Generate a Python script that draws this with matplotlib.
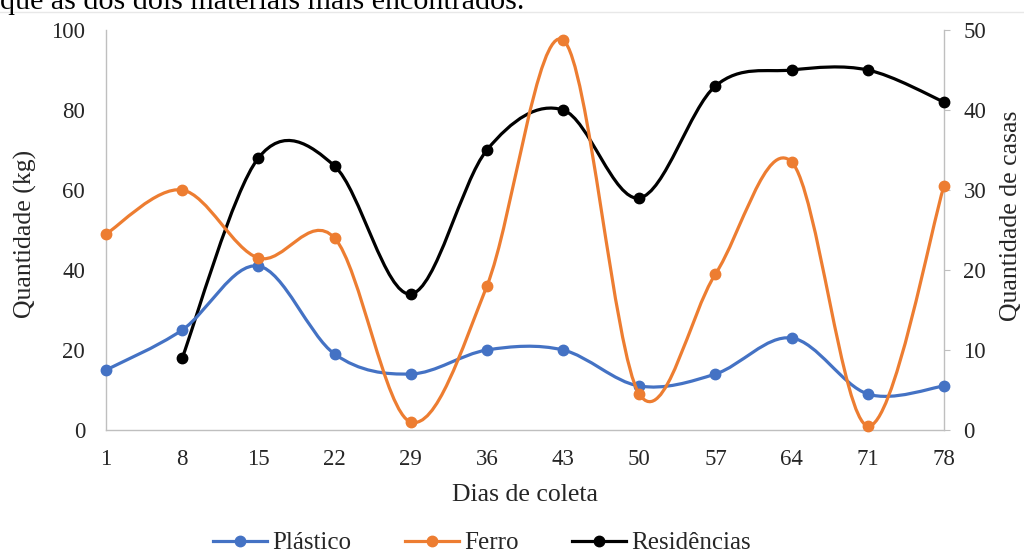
import matplotlib
matplotlib.use("Agg")
import matplotlib.pyplot as plt
from matplotlib.path import Path
from matplotlib.patches import PathPatch
from matplotlib.lines import Line2D
import numpy as np

plt.rcParams['font.family'] = ['Liberation Serif', 'DejaVu Serif']

dias = ['1', '8', '15', '22', '29', '36', '43', '50', '57', '64', '71', '78']
plastico = [15, 25, 41, 19, 14, 20, 20, 11, 14, 23, 9, 11]
ferro = [49, 60, 43, 48, 2, 36, 97.5, 9, 39, 67, 1, 61]
residencias = [None, 9, 34, 33, 17, 35, 40, 29, 43, 45, 45, 41]

C_PLA = '#4472C4'
C_FER = '#ED7D31'
C_RES = '#000000'
TXT = '#262626'
SPINE = '#BFBFBF'


def smooth_path(xs, ys):
    pts = np.column_stack([xs, ys]).astype(float)
    n = len(pts)
    verts = [pts[0]]
    codes = [Path.MOVETO]
    for i in range(n - 1):
        p0 = pts[i - 1] if i > 0 else pts[i]
        p1 = pts[i]
        p2 = pts[i + 1]
        p3 = pts[i + 2] if i + 2 < n else pts[i + 1]
        c1 = p1 + (p2 - p0) / 6.0
        c2 = p2 - (p3 - p1) / 6.0
        verts += [c1, c2, p2]
        codes += [Path.CURVE4] * 3
    return Path(verts, codes)


fig = plt.figure(figsize=(10.24, 5.54), dpi=100)
ax = fig.add_axes([106 / 1024, 1 - 430 / 554, (944 - 106) / 1024, 400 / 554])
ax2 = ax.twinx()

x = np.arange(len(dias))


def draw(axis, xs, ys, color, z):
    patch = PathPatch(smooth_path(xs, ys), fill=False, edgecolor=color,
                      lw=2.3, zorder=z, capstyle='round', joinstyle='round')
    axis.add_patch(patch)
    axis.plot(xs, ys, linestyle='none', marker='o', ms=7.5, color=color,
              zorder=z + 0.5, clip_on=False)


draw(ax, x, plastico, C_PLA, 3)
draw(ax, x, ferro, C_FER, 4)
xr = [xi for xi, v in zip(x, residencias) if v is not None]
yr = [v for v in residencias if v is not None]
draw(ax2, xr, yr, C_RES, 5)

ax.set_xlim(0, len(dias) - 1)
ax.set_ylim(0, 100)
ax2.set_ylim(0, 50)
ax.set_yticks(range(0, 101, 20))
ax2.set_yticks(range(0, 51, 10))
ax.set_xticks(x)
ax.set_xticklabels(dias)

for a in (ax, ax2):
    for s in a.spines.values():
        s.set_visible(False)
ax.spines['left'].set_visible(True)
ax.spines['bottom'].set_visible(True)
ax2.spines['right'].set_visible(True)
for s in (ax.spines['left'], ax.spines['bottom'], ax2.spines['right']):
    s.set_color(SPINE)
    s.set_linewidth(1.0)

ax.tick_params(axis='y', length=0, pad=15, labelsize=16.5, labelcolor=TXT)
ax.tick_params(axis='x', length=0, pad=14, labelsize=16.5, labelcolor=TXT)
ax2.tick_params(axis='y', length=4, color=SPINE, pad=10, labelsize=16.5, labelcolor=TXT)

ax.set_xlabel('Dias de coleta', fontsize=18.5, color=TXT, labelpad=10)
ax.set_ylabel('Quantidade (kg)', fontsize=18.5, color=TXT)
ax2.set_ylabel('Quantidade de casas', fontsize=18.5, color=TXT)
ax.yaxis.set_label_coords(25 / 1024, 1 - 234 / 554, transform=fig.transFigure)
ax2.yaxis.set_label_coords(1011 / 1024, 1 - 216 / 554, transform=fig.transFigure)
ax.yaxis.label.set_va('center')
ax2.yaxis.label.set_va('center')
ax.set_zorder(ax2.get_zorder() + 1)
ax.patch.set_visible(False)

handles = [
    Line2D([], [], color=C_PLA, lw=2.3, marker='o', ms=7.5),
    Line2D([], [], color=C_FER, lw=2.3, marker='o', ms=7.5),
    Line2D([], [], color=C_RES, lw=2.3, marker='o', ms=7.5),
]
fig.legend(handles, ['Plástico', 'Ferro', 'Residências'], loc='center',
           bbox_to_anchor=(482 / 1024, 1 - 543 / 554), ncol=3, frameon=False,
           fontsize=18, handlelength=2.16, handletextpad=0.2, columnspacing=2.16,
           labelcolor=TXT, borderpad=0)

fig.text(0.0, 1 - 9 / 554, 'que as dos dois materiais mais encontrados.',
         fontsize=21.6, color='#000000', va='baseline', ha='left')
fig.add_artist(Line2D([0, 1], [1 - 12 / 554, 1 - 12 / 554], color='#E8E8E8',
                      lw=1.0, transform=fig.transFigure))

fig.savefig('out.png', dpi=100)
